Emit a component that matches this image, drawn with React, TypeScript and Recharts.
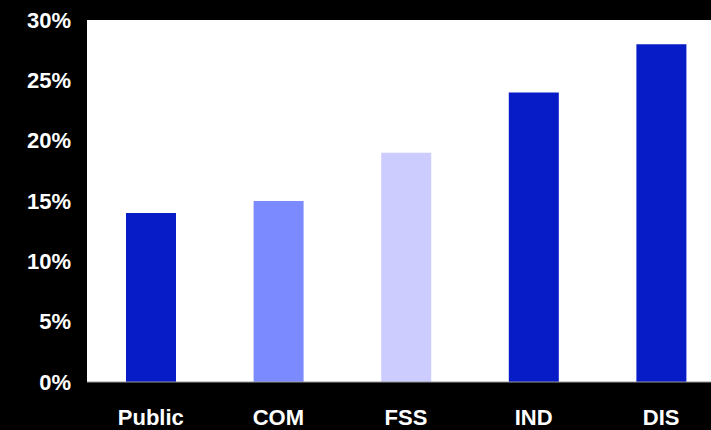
import { BarChart, Bar, XAxis, YAxis, CartesianGrid, Cell } from "recharts";

// Share by segment
const segments = ["Public", "COM", "FSS", "IND", "DIS"];
const shares = [14, 15, 19, 24, 28];
const barColors = ["#071CC6", "#7B8BFF", "#CCCCFF", "#071CC6", "#071CC6"];
const yTicks = [0, 5, 10, 15, 20, 25, 30];

const chartData = segments.map((name, i) => ({ name, share: shares[i] }));

export default function App() {
  return (
    <div
      style={{
        position: "fixed",
        left: 0,
        top: 0,
        width: 711,
        height: 430,
        overflow: "hidden",
        background: "#000",
        fontFamily: "'Liberation Sans', Arial, sans-serif",
      }}
    >
      <BarChart
        width={725}
        height={430}
        data={chartData}
        margin={{ top: 20, right: 0, bottom: 0, left: 0 }}
        barSize={50}
      >
        <CartesianGrid horizontal={false} vertical={false} fill="#fff" />
        <XAxis
          dataKey="name"
          height={48}
          axisLine={{ stroke: "#9a9a9a" }}
          tickLine={false}
          tickSize={0}
          tickMargin={27}
          tick={{ fill: "#fff", fontSize: 22, fontWeight: "bold" }}
        />
        <YAxis
          width={87}
          domain={[0, 30]}
          ticks={yTicks}
          interval={0}
          axisLine={false}
          tickLine={false}
          tickSize={0}
          tickMargin={16}
          tickFormatter={(v) => `${v}%`}
          tick={{ fill: "#fff", fontSize: 22, fontWeight: "bold" }}
        />
        <Bar dataKey="share" isAnimationActive={false}>
          {chartData.map((entry, index) => (
            <Cell key={entry.name} fill={barColors[index]} />
          ))}
        </Bar>
      </BarChart>
    </div>
  );
}
